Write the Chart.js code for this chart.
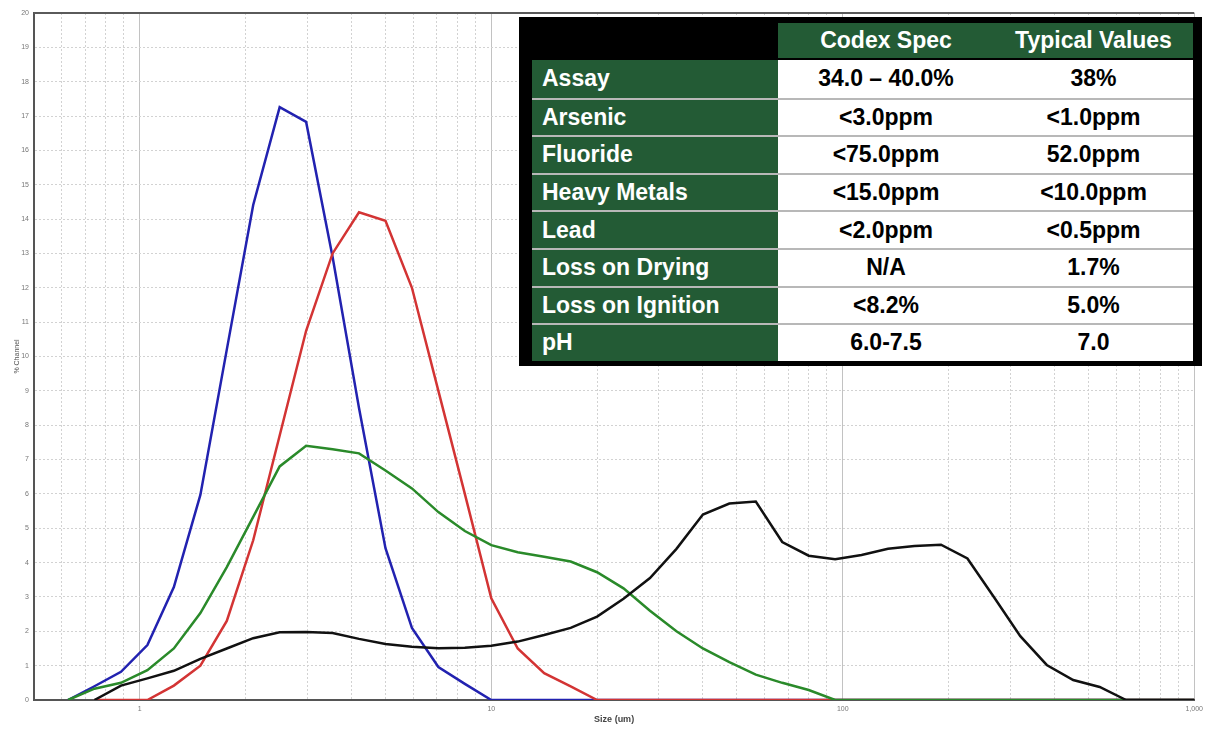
<!DOCTYPE html>
<html>
<head>
<meta charset="utf-8">
<script src="https://cdn.jsdelivr.net/npm/chart.js@4.4.1/dist/chart.umd.min.js"></script>
<style>
  html, body { margin: 0; padding: 0; background: #fff; }
  #wrap { position: relative; width: 1208px; height: 730px; overflow: hidden; }
  #wrap canvas { position: absolute; left: 0; top: 0; }
  #specBox { position: absolute; left: 519px; top: 17px; width: 683px; height: 349px; background: #000; }
  #spec {
    position: absolute; left: 13px; top: 6px;
    display: grid;
    grid-template-columns: 246px 216px 199px;
    grid-template-rows: 37px repeat(8, 37.6px);
    font: bold 23px 'Liberation Sans', Arial, sans-serif;
  }
  .cell { display: flex; align-items: center; box-sizing: border-box; white-space: nowrap; }
  .hd { background: #235b35; color: #fff; justify-content: center; height: 35px; }
  .blank { background: transparent; }
  .lab { background: #235b35; color: #fff; padding-left: 10px; }
  .val { background: #fff; color: #000; justify-content: center; }
  .sep { border-top: 2px solid #b8b8b8; }
</style>
</head>
<body>
<div id="wrap">
  <canvas id="psd" width="1208" height="730"></canvas>
  <div id="specBox"><div id="spec"></div></div>
</div>
<script>
// channel sizes (um), one per measured channel
const sizes = [
  0.625, 0.743, 0.884, 1.051, 1.25, 1.487, 1.768, 2.102, 2.5, 2.973,
  3.536, 4.204, 5, 5.946, 7.071, 8.409, 10, 11.89, 14.14, 16.82,
  20, 23.78, 28.28, 33.64, 40, 47.57, 56.57, 67.27, 80, 95.14,
  113.1, 134.5, 160, 190.3, 226.3, 269.1, 320, 380.5, 452.5, 538.2,
  640, 761.1, 905.1, 1076
];

// % channel per sample
const blueCh = [
  0, 0.4, 0.82, 1.6, 3.29, 5.97, 10.2, 14.41, 17.26, 16.83,
  12.9, 8.5, 4.42, 2.1, 0.96, 0.47, 0, 0, 0, 0,
  0, 0, 0, 0, 0, 0, 0, 0, 0, 0,
  0, 0, 0, 0, 0, 0, 0, 0, 0, 0,
  0, 0, 0, 0
];
const redCh = [
  null, 0, 0, 0, 0.42, 1.0, 2.3, 4.65, 7.7, 10.75,
  13.0, 14.2, 13.95, 12.0, 9.0, 6.0, 2.96, 1.5, 0.78, 0.4,
  0, 0, 0, 0, 0, 0, 0, 0, 0, 0,
  0, 0, 0, 0, 0, 0, 0, 0, 0, 0,
  0, 0, 0, 0
];
const greenCh = [
  0, 0.33, 0.5, 0.87, 1.5, 2.53, 3.87, 5.33, 6.8, 7.4,
  7.3, 7.18, 6.68, 6.16, 5.47, 4.92, 4.51, 4.3, 4.17, 4.03,
  3.72, 3.25, 2.6, 2.0, 1.5, 1.1, 0.74, 0.5, 0.29, 0,
  0, 0, 0, 0, 0, 0, 0, 0, 0, 0,
  0, 0, 0, 0
];
const blackCh = [
  null, 0, 0.42, 0.63, 0.85, 1.2, 1.5, 1.8, 1.97, 1.98,
  1.95, 1.78, 1.63, 1.55, 1.51, 1.52, 1.58, 1.7, 1.89, 2.1,
  2.43, 2.95, 3.55, 4.4, 5.4, 5.72, 5.78, 4.6, 4.2, 4.1,
  4.22, 4.4, 4.48, 4.52, 4.12, 3.0, 1.86, 1.02, 0.58, 0.38,
  0, 0, 0, 0
];

// x grid positions and labelled decades
const xGridTicks = [
  0.6, 0.7, 0.8, 0.9, 1, 2, 3, 4, 5, 6, 7, 8, 9,
  10, 20, 30, 40, 50, 60, 70, 80, 90,
  100, 200, 300, 400, 500, 600, 700, 800, 900, 1000
];
const xLabelValues = [1, 10, 100, 1000];
const xLabelText = ['1', '10', '100', '1,000'];

// spec table
const specHeader = ['', 'Codex Spec', 'Typical Values'];
const specRows = ['Assay', 'Arsenic', 'Fluoride', 'Heavy Metals', 'Lead', 'Loss on Drying', 'Loss on Ignition', 'pH'];
const codexSpec = ['34.0 \u2013 40.0%', '<3.0ppm', '<75.0ppm', '<15.0ppm', '<2.0ppm', 'N/A', '<8.2%', '6.0-7.5'];
const typicalValues = ['38%', '<1.0ppm', '52.0ppm', '<10.0ppm', '<0.5ppm', '1.7%', '5.0%', '7.0'];

const spec = document.getElementById('spec');
const addCell = (cls, text) => {
  const d = document.createElement('div');
  d.className = 'cell ' + cls;
  d.textContent = text;
  spec.appendChild(d);
};
specHeader.forEach((h, i) => addCell(i === 0 ? 'blank' : 'hd', h));
specRows.forEach((r, i) => {
  const sep = i > 0 ? ' sep' : '';
  addCell('lab' + sep, r);
  addCell('val' + sep, codexSpec[i]);
  addCell('val' + sep, typicalValues[i]);
});

const isDecade = (v) => {
  const l = Math.log10(v);
  return Math.abs(l - Math.round(l)) < 1e-9;
};
const toPts = (vals) => sizes.map((s, i) => ({ x: s, y: vals[i] }));

const frameLine = {
  id: 'frameLine',
  afterDraw(chart) {
    const { ctx, chartArea: a } = chart;
    ctx.save();
    ctx.strokeStyle = '#5a5a5a';
    ctx.lineWidth = 2;
    ctx.beginPath();
    ctx.moveTo(a.left, a.top);
    ctx.lineTo(a.right, a.top);
    ctx.stroke();
    ctx.restore();
  }
};

Chart.defaults.font.family = "'Liberation Sans', Arial, sans-serif";

const line = (data, color, order) => ({
  data: toPts(data),
  borderColor: color,
  borderWidth: 2.5,
  pointRadius: 0,
  tension: 0,
  fill: false,
  order
});

new Chart(document.getElementById('psd'), {
  type: 'line',
  data: {
    datasets: [
      line(blueCh, '#2222b0', 3),
      line(redCh, '#d33434', 2),
      line(greenCh, '#2a8a2a', 1),
      line(blackCh, '#111111', 0)
    ]
  },
  options: {
    responsive: false,
    animation: false,
    layout: { padding: { top: 13, right: 11, left: 0, bottom: 0 } },
    plugins: { legend: { display: false }, tooltip: { enabled: false } },
    scales: {
      x: {
        type: 'logarithmic',
        min: 0.5,
        max: 1000,
        afterBuildTicks: (s) => { s.ticks = xGridTicks.map(v => ({ value: v })); },
        afterFit: (s) => { s.height = 30; },
        ticks: {
          autoSkip: false,
          maxRotation: 0,
          padding: 5,
          color: '#777',
          font: { size: 7 },
          callback: (v) => {
            const i = xLabelValues.indexOf(v);
            return i >= 0 ? xLabelText[i] : '';
          }
        },
        grid: {
          drawTicks: false,
          lineWidth: 1,
          color: (c) => (c.tick && isDecade(c.tick.value)) ? '#c2c2c2' : '#d2d2d2'
        },
        border: {
          color: '#555',
          width: 2,
          dash: (c) => (c.tick && isDecade(c.tick.value)) ? [] : [2, 2]
        },
        title: {
          display: true,
          text: 'Size (um)',
          color: '#444',
          font: { size: 9, weight: 'bold' },
          padding: { top: 0, bottom: 5 }
        }
      },
      y: {
        min: 0,
        max: 20,
        afterFit: (s) => { s.width = 34; },
        ticks: { stepSize: 1, padding: 5, color: '#777', font: { size: 7 } },
        grid: { drawTicks: false, color: '#d2d2d2', lineWidth: 1 },
        border: { color: '#555', width: 2, dash: [2, 2] },
        title: {
          display: true,
          text: '% Channel',
          color: '#555',
          font: { size: 7 },
          padding: { top: 13, bottom: 0 }
        }
      }
    }
  },
  plugins: [frameLine]
});
</script>
</body>
</html>
